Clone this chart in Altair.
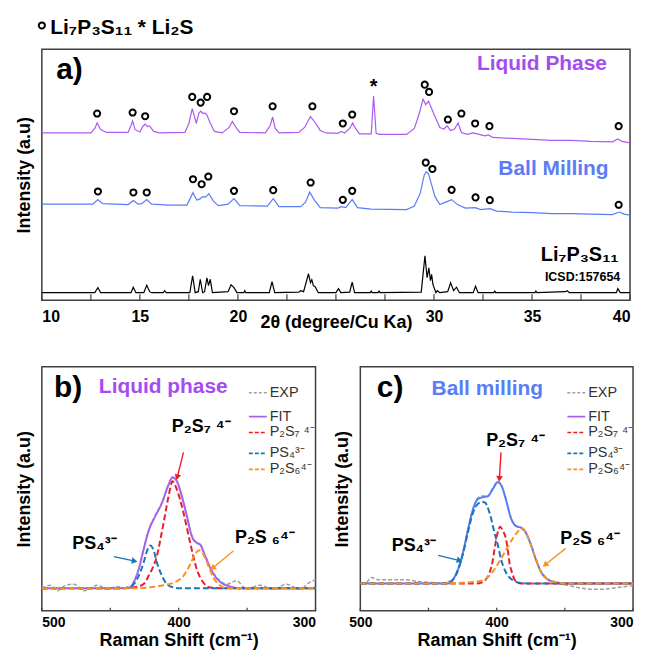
import altair as alt
import pandas as pd

FONT = "Liberation Sans"
PURPLE = "#AC5AF2"
PURPLE_TXT = "#A54CF0"
BLUE = "#5B7CF8"
FIT_PURPLE = "#A462EA"
RED = "#EE1C25"
DBLUE = "#1B75BB"
ORANGE = "#F7931E"
GRAY = "#A0A0A0"
FRAME = "#404040"

# ---------------- (a) XRD data ----------------
lp_tt = [10.0, 12.5, 12.7, 12.82, 13.0, 13.3, 14.4, 14.55, 14.63, 14.75, 15.0, 15.15, 15.27, 15.4, 15.5, 15.7,
         16.0, 17.3, 17.5, 17.67, 17.8, 17.88, 18.0, 18.1, 18.22, 18.32, 18.42, 18.6, 18.8, 19.2, 19.55, 19.72,
         19.9, 20.1, 21.4, 21.65, 21.77, 21.9, 22.1, 23.1, 23.4, 23.7, 23.9, 24.2, 24.5, 25.1, 25.27, 25.45,
         25.7, 25.85, 26.0, 26.2, 26.8, 26.92, 27.05, 27.2, 28.6, 29.0, 29.25, 29.44, 29.58, 29.72, 29.9, 30.05,
         30.3, 30.5, 30.67, 30.85, 31.05, 31.23, 31.4, 31.7, 32.0, 32.3, 32.6, 32.77, 33.0, 34.0, 35.0, 36.0,
         37.0, 38.0, 39.1, 39.38, 39.6, 40.0]
lp_int = [167.5, 167.5, 172, 177.5, 171, 168, 168, 175, 179.5, 171, 168.5, 174, 176.5, 174, 174.5, 169,
          167.5, 168, 177, 192, 183, 177, 187, 189.5, 187, 187.5, 185.5, 177, 169, 167.5, 173, 179,
          173, 168, 167.5, 175, 183.5, 172, 167.5, 168, 173, 184, 179, 170, 167.5, 167, 169, 167.5,
          172, 177.5, 172, 166.5, 166.5, 204.5, 167, 166, 166, 172, 187, 201.5, 196, 199.5, 191, 184,
          173, 171.5, 174.5, 170, 171.5, 177.5, 168, 166, 167.5, 166, 164.5, 165.5, 163, 162, 161, 160,
          160, 159, 158.5, 161.5, 159, 157.5]

bm_tt = [10.0, 12.6, 12.86, 13.1, 14.4, 14.67, 14.9, 15.1, 15.35, 15.6, 16.5, 17.4, 17.71, 17.9, 18.05, 18.2,
         18.35, 18.52, 18.75, 19.0, 19.5, 19.8, 20.1, 21.5, 21.8, 22.1, 23.2, 23.45, 23.66, 23.9, 24.2, 25.1,
         25.27, 25.5, 25.83, 26.1, 26.8, 28.6, 29.0, 29.3, 29.5, 29.61, 29.72, 29.9, 30.05, 30.3, 30.6, 30.9,
         31.2, 31.6, 32.1, 32.4, 32.85, 33.2, 34.0, 35.0, 36.0, 37.0, 38.0, 39.1, 39.46, 39.7, 40.0]
bm_int = [96, 96, 100.5, 96.5, 95.5, 99.5, 96, 96.5, 100.5, 96, 95, 95, 107.5, 100, 101, 103.5,
          103, 106.5, 99, 94.5, 96, 101.5, 94.5, 94, 101.5, 93.5, 93.5, 98, 108, 100, 92.5, 92,
          93.5, 92.5, 100.5, 92.5, 91, 90.5, 94, 107, 125, 128.5, 126.5, 114, 103.5, 95.5, 98, 100.5,
          95.5, 92, 92.5, 90.5, 91.5, 89, 88, 87.5, 86.5, 86.5, 86, 85.5, 88, 86, 85]

ref_tt = [10.0, 12.7, 12.86, 13.0, 14.55, 14.66, 14.8, 15.2, 15.35, 15.5, 15.6, 16.2, 16.26, 16.35, 17.55,
          17.69, 17.82, 17.98, 18.08, 18.2, 18.3, 18.42, 18.5, 18.59, 18.7, 19.5, 19.65, 19.8, 19.95, 20.3,
          20.35, 20.4, 21.6, 21.74, 21.88, 23.1, 23.2, 23.35, 23.6, 23.7, 23.77, 23.85, 23.94, 24.1, 25.0,
          25.13, 25.25, 25.7, 25.83, 25.95, 26.75, 26.8, 26.85, 27.15, 27.2, 27.25, 29.35, 29.54, 29.65,
          29.74, 29.82, 29.88, 29.95, 30.1, 30.17, 30.3, 30.7, 30.85, 31.0, 31.15, 31.3, 32.0, 32.12, 32.25,
          33.05, 33.1, 33.15, 35.15, 35.2, 35.25, 36.7, 36.8, 36.9, 39.3, 39.38, 39.5, 40.0]
ref_int = [7, 7, 12, 7, 7, 12.5, 7, 7, 14.5, 8, 7, 7, 9, 7, 7,
           24, 7, 8, 20.5, 7, 8, 22, 14, 20.5, 7, 8, 15, 12, 7, 7,
           9, 7, 7, 18, 7, 7.5, 9, 8, 26, 17, 20, 14, 13, 7, 7,
           11, 7, 7.5, 17.5, 7, 7, 8.5, 7, 7, 8.5, 7, 7.5, 44, 22,
           32, 19, 25.5, 15, 7, 9, 7, 8, 17, 9, 12.5, 7, 7, 13.5, 7,
           7, 8.5, 7, 7, 8.5, 7, 8, 9, 7, 7, 11, 7, 7]

lp_mark_tt = [12.82, 14.63, 15.27, 17.67, 18.1, 18.43, 19.8, 21.77, 23.8, 25.35, 25.83, 29.53, 29.75, 30.71,
              31.4, 32.1, 32.83, 39.42]
lp_mark_int = [187, 188, 184.3, 203.7, 198, 203.7, 189.3, 194.3, 194.3, 177, 186, 216, 208.7, 181,
               187, 177, 174.3, 174.3]
bm_mark_tt = [12.86, 14.67, 15.35, 17.71, 18.15, 18.49, 19.8, 21.8, 23.71, 25.35, 25.83, 29.58, 29.92, 30.9,
              32.12, 32.85, 39.42]
bm_mark_int = [108.7, 107.7, 107.7, 121, 116, 123.7, 109.3, 110, 117.7, 100.3, 109.3, 137.7, 131.3, 110.3,
               102.7, 100, 95.3]
star_tt = [26.92]
star_int = [218.7]
xrd_label_vals = [10, 15, 20, 25, 30, 35, 40]
xrd_tick_vals = [10, 12.5, 15, 17.5, 20, 22.5, 25, 27.5, 30, 32.5, 35, 37.5, 40]

# ---------------- (b) Raman, liquid phase ----------------
b_fit_x = [500, 470, 445, 435.3, 432.9, 429.2, 425.6, 422, 417.1, 412.2, 407.4, 404.5, 401.3, 397.7, 394,
           390.4, 386.8, 384.4, 380.7, 375.9, 370, 362.6, 355, 330, 300]
b_fit_y = [0, 0, 0, 0.5, 5.7, 19, 39, 57.4, 72.4, 85.7, 104, 111.4, 107.4, 92.4, 72.4,
           52.4, 45.7, 44, 32.4, 17.4, 6.7, 1.7, 0, 0, 0]
b_red_x = [500, 440, 430, 425, 422, 418.5, 415.9, 413.5, 411, 407.4, 404.5, 401.3, 396.5, 391.6, 386.8,
           382, 377.2, 370, 300]
b_red_y = [0, 0, 1.5, 5, 12.4, 22, 32.4, 48, 65.7, 92.4, 107.4, 99, 75.7, 45.7, 19, 5.7, 0.7, 0, 0]
b_blue_x = [500, 440, 437.7, 432.9, 429.2, 425.6, 423, 420.7, 418.3, 415.9, 412.2, 408.6, 403.7, 400, 300]
b_blue_y = [0, 0, 0.7, 4, 12.4, 25.7, 38, 43, 38, 25.7, 12.4, 4, 0.7, 0, 0]
b_orange_x = [500, 430, 422, 411, 401.3, 396.5, 391.6, 388, 385.1, 382, 378.3, 374.7, 370, 365, 300]
b_orange_y = [0, 0, 0.7, 3, 7, 12.4, 24, 34, 38, 34, 22.4, 10.7, 3, 0, 0]
b_exp_x = [500, 493.5, 488.6, 483.8, 476.5, 469.2, 459.5, 452.2, 445, 437.7, 432.9, 429.2, 425.6, 422,
           417.1, 412.2, 407.4, 404.5, 401.3, 397.7, 394, 390.4, 386.8, 384.4, 380.7, 375.9, 370, 365,
           357.7, 350.4, 340.7, 331, 321.3, 311.6, 304.4, 300]
b_exp_y = [0, 3, -2.6, 2, 4, -2.6, 3, -1, 1.7, 0, 6, 20, 40, 58, 73, 86, 104, 111, 107, 92, 72, 52, 45,
           44, 33, 18, 8, 4, 7.4, -1, 3, -1, 4, -1, 5.7, 8.4]

# ---------------- (c) Raman, ball milling ----------------
c_fit_x = [500, 470, 440, 435.6, 431.9, 428.3, 424.7, 421, 417.4, 413.7, 410.1, 406.5, 402.8, 399.2, 396.3,
           393.2, 389.6, 385.9, 382.3, 378.6, 375, 371.3, 367.7, 362.8, 355.5, 348.3, 330, 300]
c_fit_y = [0, 0, 0, 0, 4.3, 14.3, 31, 54.3, 74.3, 85, 86.7, 87.7, 95, 101.7, 97.7,
           84.3, 66, 57.7, 56, 51, 39.3, 24.3, 12.3, 4.3, 1, 0, 0, 0]
c_blue_x = [500, 440, 435.6, 431.9, 428.3, 424.7, 421, 417.4, 413.7, 410.5, 408.9, 405, 401.6, 399, 396.8,
            393.5, 390.6, 387, 384.6, 380, 375, 300]
c_blue_y = [0, 0, 0.5, 4, 13.5, 30, 52, 71, 80, 82, 81.7, 70, 51, 38, 24.3, 12, 6, 2.5, 1, 0.3, 0, 0]
c_red_x = [500, 415, 411.3, 408, 405.2, 403, 401.6, 399.5, 397.5, 395.5, 393.1, 391.5, 390.6, 388.5, 387,
           384, 380, 300]
c_red_y = [0, 0, 1, 4, 11, 22, 34.3, 50, 57, 53, 44.3, 30, 21, 10, 4.3, 0.5, 0, 0]
c_orange_x = [500, 440, 425, 418, 411.3, 406, 401.6, 398, 394.3, 390.5, 387, 384.5, 382.6, 380.5, 378.6,
              375, 371.3, 367.7, 362.8, 355.5, 348, 300]
c_orange_y = [0, 0, 0.8, 1.5, 2.7, 7, 14.3, 22, 31, 40, 47.7, 52, 55.3, 55, 51, 39.3, 24.3, 12.3, 4.3,
              1, 0, 0]
c_exp_x = [495.2, 491.5, 488, 484.2, 477, 467.2, 457.5, 447.8, 440.5, 431.9, 428.3, 424.7, 421, 417.4,
           413.7, 410.1, 406.5, 402.8, 399.2, 396.3, 393.2, 389.6, 385.9, 382.3, 378.6, 375, 371.3, 367.7,
           362.8, 355.5, 348.1, 340.9, 331.2, 321.5, 311.8, 300]
c_exp_y = [1, 6, 4, 3.7, 3.7, 3.7, 2, 1, 0.5, 4.5, 15, 32, 55, 75, 86, 88, 88, 96, 102.5, 98, 85, 66.5,
           58, 56.5, 51.5, 40, 25, 13, 5, 0, -1.7, -4, -5.7, -5.7, -4, -2.3]

raman_tick_vals = [500, 450, 400, 350, 300]
legend_labels = ["EXP", "FIT", "P\u2082S\u2087 \u2074\u207b", "PS\u2084\u00b3\u207b", "P\u2082S\u2086\u2074\u207b"]
legend_dash = [[3, 2], [1, 0], [4, 2], [4, 2], [4, 2]]
legend_rows = [26, 50, 66, 87, 103]

annot_text = ["P\u2082S\u2087 \u2074\u207b", "PS\u2084\u00b3\u207b", "P\u2082S \u2086\u2074\u207b"]
b_annot_x = [405, 477.7, 358.9]
b_annot_y = [157.4, 39.7, 45.7]
c_annot_x = [407.7, 477, 353.4]
c_annot_y = [137.7, 32.7, 39.3]

b_arrow = {"x": [396.5, 447.4, 360.1], "I": [136.4, 31.7, 37.4], "xe": [400.9, 432.9, 374.7],
           "Ie": [112.4, 27.4, 20.7], "c": [RED, DBLUE, ORANGE], "ang": [194, 102, 230]}
c_arrow = {"x": [396.8, 442.9, 349.4], "I": [131.7, 28.3, 35.3], "xe": [398, 427.8, 364],
           "Ie": [106, 23.3, 19.3], "c": [RED, DBLUE, ORANGE], "ang": [184, 104, 231]}


def txt(text, x, y, size, color="black", align="left", baseline="alphabetic", weight="bold"):
    return alt.Chart(pd.DataFrame({"t": [text]})).mark_text(
        align=align, baseline=baseline, fontSize=size, fontWeight=weight, font=FONT, color=color
    ).encode(text="t:N", x=alt.value(x), y=alt.value(y))


# ---------------- top panel ----------------
W_TOP, H_TOP = 591, 252
XS = alt.Scale(domain=[10, 40], nice=False, zero=False)
YS = alt.Scale(domain=[-0.5, 251.5], nice=False, zero=False)
X_TOP = alt.X("tt:Q", scale=XS, axis=alt.Axis(
    values=xrd_label_vals, labelExpr="datum.value == 25 ? '' : datum.label",
    title="2\u03b8 (degree/Cu Ka)", labelFontSize=16, labelPadding=8, titleFontSize=18,
    titleY=13, titleBaseline="top"))
Y_TOP = alt.Y("I:Q", scale=YS, axis=alt.Axis(title="Intensity (a.u)", labels=False,
                                               titlePadding=8.5, titleFontSize=18))


def xrd_line(tt, inten, color):
    return alt.Chart(pd.DataFrame({"tt": tt, "I": inten})).mark_line(
        color=color, strokeWidth=1.2).encode(x=X_TOP, y=Y_TOP)


def xrd_marks(tt, inten):
    return alt.Chart(pd.DataFrame({"tt": tt, "I": inten})).mark_point(
        shape="circle", filled=False, size=38, strokeWidth=2, color="black", opacity=1
    ).encode(x=X_TOP, y=Y_TOP)


top_ticks = alt.Chart(pd.DataFrame({"tt": xrd_tick_vals})).mark_rule(color=FRAME, strokeWidth=1.2).encode(
    x=X_TOP, y=alt.value(H_TOP), y2=alt.value(H_TOP - 6))
star = alt.Chart(pd.DataFrame({"tt": star_tt, "I": star_int, "t": ["*"]})).mark_text(
    fontSize=20, fontWeight="bold", font=FONT, baseline="middle", dy=5).encode(x=X_TOP, y=Y_TOP, text="t:N")
legend_o = alt.Chart(pd.DataFrame({"t": ["o"]})).mark_point(
    shape="circle", filled=False, size=38, strokeWidth=2, color="black", opacity=1).encode(
    x=alt.value(0), y=alt.value(-24))

top = alt.layer(
    xrd_line(ref_tt, ref_int, "black"),
    xrd_line(bm_tt, bm_int, BLUE),
    xrd_line(lp_tt, lp_int, PURPLE),
    xrd_marks(lp_mark_tt, lp_mark_int),
    xrd_marks(bm_mark_tt, bm_mark_int),
    star,
    top_ticks,
    legend_o,
    txt("Li\u2087P\u2083S\u2081\u2081 * Li\u2082S", 8.5, -15, 21),
    txt("a)", 14.5, 29.5, 30),
    txt("Liquid Phase", 567.8, 21.2, 21, PURPLE_TXT, align="right"),
    txt("Ball Milling", 569.5, 126.2, 21, BLUE, align="right"),
    txt("Li\u2087P\u2083S\u2081\u2081", 579.5, 212.8, 20, align="right"),
    txt("ICSD:157654", 581.2, 232.8, 12.5, align="right"),
).properties(width=W_TOP, height=H_TOP)


# ---------------- Raman panels ----------------
def raman_panel(width, height, ydom, curves, letter, letter_x, ttl, ttl_color, ttl_x, ttl_y,
                ax, ay, arrows, last_right=False):
    xs = alt.Scale(domain=[500, 300], nice=False, zero=False)
    ys = alt.Scale(domain=ydom, nice=False, zero=False)
    axis_kw = dict(values=[500, 400, 300], title="Raman Shift (cm\u207b\u00b9)",
                   labelFontSize=14, labelPadding=5, titleFontSize=18, titleY=21, titleBaseline="top")
    if last_right:
        axis_kw["labelAlign"] = {"condition": {"test": "datum.value == 300", "value": "right"},
                                 "value": "center"}
    X = alt.X("x:Q", scale=xs, axis=alt.Axis(**axis_kw))
    Y = alt.Y("I:Q", scale=ys, axis=alt.Axis(title="Intensity (a.u)", labels=False, titlePadding=8.5,
                                             titleFontSize=18))
    layers = []
    for cx, cy, col, dash, sw in curves:
        layers.append(alt.Chart(pd.DataFrame({"x": cx, "I": cy})).mark_line(
            color=col, strokeDash=dash, strokeWidth=sw, interpolate="monotone").encode(x=X, y=Y))
    layers.append(alt.Chart(pd.DataFrame({"x": raman_tick_vals})).mark_rule(
        color=FRAME, strokeWidth=1.2).encode(x=X, y=alt.value(height), y2=alt.value(height - 3)))
    # arrows
    adf = pd.DataFrame(arrows)
    layers.append(alt.Chart(adf).mark_rule(strokeWidth=1.4).encode(
        x=X, y=Y, x2="xe:Q", y2="Ie:Q", color=alt.Color("c:N", scale=None)))
    layers.append(alt.Chart(adf).mark_point(shape="triangle", filled=True, size=45, opacity=1).encode(
        x=alt.X("xe:Q", scale=xs), y=alt.Y("Ie:Q", scale=ys), color=alt.Color("c:N", scale=None),
        angle=alt.Angle("ang:Q", scale=None)))
    # annotations
    layers.append(alt.Chart(pd.DataFrame({"x": ax, "I": ay, "t": annot_text})).mark_text(
        align="left", baseline="alphabetic", fontSize=18, fontWeight="bold", font=FONT).encode(
        x=X, y=Y, text="t:N"))
    # legend
    leg_colors = [GRAY, FIT_PURPLE, RED, DBLUE, ORANGE]
    for lab, col, dash, ry in zip(legend_labels, leg_colors, legend_dash, legend_rows):
        layers.append(alt.Chart(pd.DataFrame({"t": [lab]})).mark_rule(
            color=col, strokeDash=dash, strokeWidth=1.6).encode(
            x=alt.value(208), x2=alt.value(226), y=alt.value(ry)))
        layers.append(txt(lab, 229, ry, 14.5, "#333333", baseline="middle", weight="normal"))
    layers.append(txt(letter, letter_x, 30, 30))
    layers.append(txt(ttl, ttl_x, ttl_y, 21, ttl_color))
    return alt.layer(*layers).properties(width=width, height=height)


b_curves = [
    (b_exp_x, b_exp_y, GRAY, [4, 2], 1.5),
    (b_fit_x, b_fit_y, FIT_PURPLE, [1, 0], 2),
    (b_red_x, b_red_y, RED, [6, 3], 2),
    (b_blue_x, b_blue_y, DBLUE, [6, 3], 2),
    (b_orange_x, b_orange_y, ORANGE, [6, 3], 2),
]
c_curves = [
    (c_exp_x, c_exp_y, GRAY, [4, 2], 1.5),
    (c_fit_x, c_fit_y, BLUE, [1, 0], 2),
    (c_red_x, c_red_y, RED, [6, 3], 2),
    (c_blue_x, c_blue_y, DBLUE, [6, 3], 2),
    (c_orange_x, c_orange_y, ORANGE, [6, 3], 2),
]

panel_b = raman_panel(275, 245, [-22.6, 222.4], b_curves, "b)", 12.3, "Liquid phase",
                      PURPLE_TXT, 57.3, 26.7, b_annot_x, b_annot_y, b_arrow)
panel_c = raman_panel(274, 245, [-27.3, 217.7], c_curves, "c)", 16.6, "Ball milling",
                      BLUE, 71.6, 28.4, c_annot_x, c_annot_y, c_arrow, last_right=True)

chart = alt.vconcat(
    top, alt.hconcat(panel_b, panel_c, spacing=12), spacing=34
).properties(
    padding={"left": 6, "top": 7, "right": 0, "bottom": 0}
).configure_view(
    stroke=FRAME, strokeWidth=1.5
).configure_axis(
    grid=False, domain=False, ticks=False, labelFont=FONT, titleFont=FONT,
    labelFontWeight="bold", titleFontWeight="bold", labelColor="black", titleColor="black"
)

chart.save("out.html", embed_options={"renderer": "svg", "actions": False})
